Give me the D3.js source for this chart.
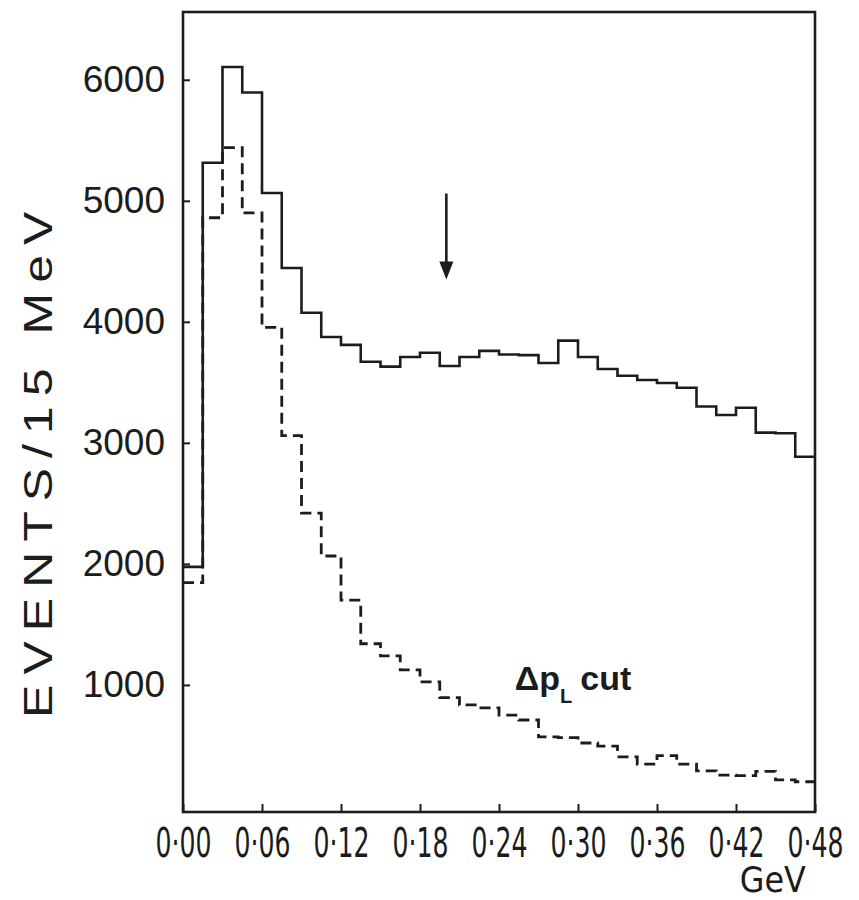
<!DOCTYPE html>
<html>
<head>
<meta charset="utf-8">
<script src="https://cdn.jsdelivr.net/npm/d3@7/dist/d3.min.js"></script>
<style>
  body { margin: 0; background: #fff; }
  svg { display: block; }
</style>
</head>
<body>
<svg id="area" width="859" height="900"></svg>
<script>
// bin width in GeV (15 MeV)
const binWidth = 0.015;

// all events, solid histogram
const allEvents = [
  1975, 5315, 6105, 5895, 5065, 4445, 4075, 3875, 3810, 3670,
  3630, 3710, 3745, 3635, 3710, 3760, 3730, 3725, 3660, 3845,
  3710, 3610, 3555, 3520, 3495, 3455, 3300, 3230, 3290, 3085,
  3080, 2885,
];

// events after the delta p_L cut, dashed histogram
const cutEvents = [
  1845, 4860, 5440, 4900, 3955, 3060, 2420, 2065, 1700, 1340,
  1240, 1125, 1025, 895, 835, 810, 750, 710, 570, 565,
  520, 495, 405, 345, 415, 345, 290, 255, 250, 285,
  215, 200,
];

const xTicks = [0, 0.06, 0.12, 0.18, 0.24, 0.30, 0.36, 0.42, 0.48];
const yTicks = [1000, 2000, 3000, 4000, 5000, 6000];

// arrow marker: x position (GeV), from / to (events)
const arrowX = 0.20;
const arrowFrom = 5060;
const arrowTo = 4350;

// label anchor (GeV, events)
const labelX = 0.252;
const labelY = 960;

const width = 859;
const height = 900;
const margin = {
  top: 12,
  right: 44,
  bottom: 88,
  left: 183,
};
const ink = '#1c1c1c';
const narrow = "'Liberation Sans Narrow', 'DejaVu Sans Condensed', 'Liberation Sans', sans-serif";

const svg = d3.select('#area');

const x = d3.scaleLinear()
  .domain([0, 0.48])
  .range([margin.left, width - margin.right]);

const y = d3.scaleLinear()
  .domain([-50, 6560])
  .range([height - margin.bottom, margin.top]);

// frame
svg.append('rect')
  .attr('x', x(0))
  .attr('y', margin.top)
  .attr('width', x(0.48) - x(0))
  .attr('height', height - margin.bottom - margin.top)
  .attr('fill', 'none')
  .attr('stroke', ink)
  .attr('stroke-width', 2.6);

// y axis
const yAxis = d3.axisLeft(y)
  .tickValues(yTicks)
  .tickSize(-7)
  .tickPadding(18)
  .tickFormat((d) => d);

const gy = svg.append('g')
  .attr('transform', `translate(${x(0)}, 0)`)
  .call(yAxis);
gy.select('.domain').remove();
gy.selectAll('line').attr('stroke', ink).attr('stroke-width', 2);
gy.selectAll('text')
  .attr('fill', ink)
  .style('font-family', "'Liberation Sans', Arial, sans-serif")
  .style('font-size', '37px');

// x axis
const fmt = (d) => `0·${String(Math.round(d * 100)).padStart(2, '0')}`;
const xAxis = d3.axisBottom(x)
  .tickValues(xTicks)
  .tickSize(-8)
  .tickPadding(17)
  .tickFormat(fmt);

const gx = svg.append('g')
  .attr('transform', `translate(0, ${height - margin.bottom})`)
  .call(xAxis);
gx.select('.domain').remove();
gx.selectAll('line').attr('stroke', ink).attr('stroke-width', 2);
gx.selectAll('text')
  .attr('fill', ink)
  .attr('textLength', 56)
  .attr('lengthAdjust', 'spacingAndGlyphs')
  .style('font-family', narrow)
  .style('font-size', '40px');

// axis titles
svg.append('text')
  .attr('x', x(0.448))
  .attr('y', 892)
  .attr('text-anchor', 'middle')
  .attr('textLength', 66)
  .attr('lengthAdjust', 'spacingAndGlyphs')
  .attr('fill', ink)
  .style('font-family', narrow)
  .style('font-size', '36px')
  .text('GeV');

svg.append('text')
  .attr('transform', `translate(52, ${y(2860)}) rotate(-90) scale(1.25, 1)`)
  .attr('text-anchor', 'middle')
  .attr('fill', ink)
  .style('font-family', "'Liberation Sans', Arial, sans-serif")
  .style('font-size', '40px')
  .style('letter-spacing', '8px')
  .text('EVENTS/15 MeV');

// histograms
const steps = (vals) => {
  const p = [];
  vals.forEach((v, i) => {
    p.push([i * binWidth, v]);
    p.push([(i + 1) * binWidth, v]);
  });
  return p;
};

const line = d3.line()
  .x((d) => x(d[0]))
  .y((d) => y(d[1]));

svg.append('path')
  .datum(steps(cutEvents))
  .attr('d', line)
  .attr('fill', 'none')
  .attr('stroke', ink)
  .attr('stroke-width', 2.8)
  .attr('stroke-dasharray', '11,6');

svg.append('path')
  .datum(steps(allEvents))
  .attr('d', line)
  .attr('fill', 'none')
  .attr('stroke', ink)
  .attr('stroke-width', 2.6);

// arrow
const ax = x(arrowX);
const tip = y(arrowTo);
svg.append('line')
  .attr('x1', ax)
  .attr('x2', ax)
  .attr('y1', y(arrowFrom))
  .attr('y2', tip - 10)
  .attr('stroke', ink)
  .attr('stroke-width', 2.6);
svg.append('path')
  .attr('d', `M${ax - 7},${tip - 18}L${ax + 7},${tip - 18}L${ax},${tip}Z`)
  .attr('fill', ink);

// delta p_L cut label
const lab = svg.append('text')
  .attr('x', x(labelX))
  .attr('y', y(labelY))
  .attr('fill', ink)
  .style('font-family', "'Liberation Sans', Arial, sans-serif")
  .style('font-weight', 'bold')
  .style('font-size', '34px');
lab.append('tspan').text('Δp');
lab.append('tspan')
  .attr('dy', 13)
  .style('font-size', '20px')
  .text('L');
lab.append('tspan')
  .attr('dy', -13)
  .attr('dx', 8)
  .text('cut');
</script>
</body>
</html>
